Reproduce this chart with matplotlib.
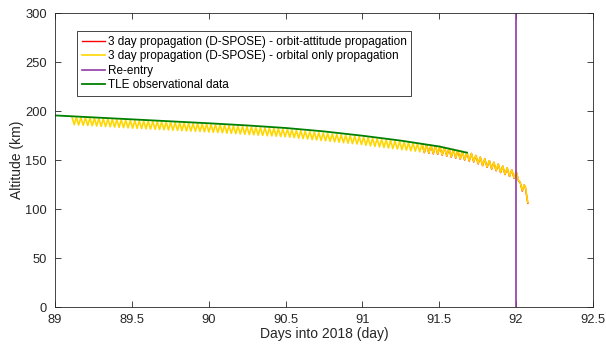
import matplotlib
matplotlib.use("Agg")
import matplotlib.pyplot as plt
from matplotlib.ticker import FuncFormatter

plt.rcParams['font.family'] = ['Liberation Sans', 'DejaVu Sans']

# TLE observational data
tle_t = [89.0, 89.25, 89.5, 89.75, 90.0, 90.25, 90.5, 90.75, 91.0, 91.25, 91.5, 91.68]
tle_alt = [195.5, 193.5, 191.5, 189.5, 187.5, 185.3, 182.7, 179.2, 174.8, 169.8, 163.8, 157.5]

# orbital only propagation: peaks / troughs
peak_t = [89.110, 89.139, 89.168, 89.198, 89.227, 89.256, 89.285, 89.314, 89.344, 89.373,
          89.402, 89.431, 89.460, 89.490, 89.519, 89.548, 89.577, 89.606, 89.636, 89.665,
          89.694, 89.723, 89.752, 89.782, 89.811, 89.840, 89.869, 89.898, 89.928, 89.957,
          89.986, 90.015, 90.044, 90.074, 90.103, 90.132, 90.161, 90.190, 90.220, 90.249,
          90.278, 90.307, 90.336, 90.366, 90.395, 90.424, 90.453, 90.482, 90.512, 90.541,
          90.570, 90.599, 90.628, 90.658, 90.687, 90.716, 90.745, 90.774, 90.804, 90.833,
          90.862, 90.891, 90.920, 90.950, 90.979, 91.008, 91.037, 91.066, 91.096, 91.125,
          91.154, 91.183, 91.212, 91.242, 91.271, 91.300, 91.329, 91.358, 91.388, 91.417,
          91.446, 91.475, 91.504, 91.534, 91.563, 91.592, 91.621, 91.650, 91.680, 91.709,
          91.738, 91.767, 91.796, 91.826, 91.855, 91.884, 91.913, 91.942, 91.972, 92.001]
peak_alt = [194.0, 193.7, 193.5, 193.2, 192.9, 192.7, 192.4, 192.1, 191.9, 191.6,
            191.3, 191.1, 190.8, 190.5, 190.3, 190.1, 189.8, 189.6, 189.4, 189.1,
            188.9, 188.7, 188.4, 188.2, 188.0, 187.7, 187.5, 187.3, 187.1, 186.8,
            186.6, 186.3, 186.1, 185.8, 185.5, 185.2, 184.9, 184.6, 184.3, 184.0,
            183.7, 183.4, 183.1, 182.8, 182.6, 182.3, 182.0, 181.7, 181.3, 180.8,
            180.3, 179.9, 179.4, 178.9, 178.5, 178.0, 177.6, 177.1, 176.6, 176.2,
            175.7, 175.2, 174.8, 174.3, 173.8, 173.3, 172.8, 172.2, 171.7, 171.1,
            170.6, 170.0, 169.5, 168.9, 168.4, 167.8, 167.3, 166.7, 166.2, 165.6,
            165.0, 164.5, 163.9, 162.8, 161.8, 160.8, 159.8, 158.8, 157.7, 156.7,
            154.7, 152.9, 151.2, 149.4, 147.7, 145.8, 143.8, 141.9, 139.9, 138.0]
trough_t = [89.125, 89.154, 89.183, 89.213, 89.242, 89.271, 89.300, 89.329, 89.359, 89.388,
            89.417, 89.446, 89.475, 89.505, 89.534, 89.563, 89.592, 89.621, 89.651, 89.680,
            89.709, 89.738, 89.767, 89.797, 89.826, 89.855, 89.884, 89.913, 89.943, 89.972,
            90.001, 90.030, 90.059, 90.089, 90.118, 90.147, 90.176, 90.205, 90.235, 90.264,
            90.293, 90.322, 90.351, 90.381, 90.410, 90.439, 90.468, 90.497, 90.527, 90.556,
            90.585, 90.614, 90.643, 90.673, 90.702, 90.731, 90.760, 90.789, 90.819, 90.848,
            90.877, 90.906, 90.935, 90.965, 90.994, 91.023, 91.052, 91.081, 91.111, 91.140,
            91.169, 91.198, 91.227, 91.257, 91.286, 91.315, 91.344, 91.373, 91.403, 91.432,
            91.461, 91.490, 91.519, 91.549, 91.578, 91.607, 91.636, 91.665, 91.695, 91.724,
            91.753, 91.782, 91.811, 91.841, 91.870, 91.899, 91.928, 91.957, 91.987]
trough_alt = [186.0, 185.7, 185.5, 185.2, 184.9, 184.7, 184.4, 184.1, 183.9, 183.6,
              183.3, 183.1, 182.8, 182.5, 182.3, 182.1, 181.8, 181.6, 181.4, 181.1,
              180.9, 180.7, 180.4, 180.2, 180.0, 179.7, 179.5, 179.3, 179.1, 178.8,
              178.6, 178.3, 178.1, 177.8, 177.5, 177.2, 176.9, 176.6, 176.3, 176.0,
              175.7, 175.4, 175.1, 174.8, 174.6, 174.3, 174.0, 173.7, 173.3, 172.8,
              172.3, 171.9, 171.4, 170.9, 170.5, 170.0, 169.6, 169.1, 168.6, 168.2,
              167.7, 167.2, 166.8, 166.3, 165.8, 165.0, 164.5, 163.9, 163.4, 162.8,
              162.3, 161.7, 161.2, 160.6, 160.1, 159.5, 159.0, 158.4, 157.9, 157.3,
              156.7, 156.2, 155.4, 154.3, 153.3, 152.3, 151.3, 150.3, 149.2, 148.4,
              146.4, 144.6, 142.9, 141.1, 139.4, 137.5, 135.5, 133.6, 131.6]
tail_t = [92.016, 92.026, 92.040, 92.052, 92.060, 92.076]
tail_alt = [129.0, 127.5, 119.0, 124.5, 123.0, 106.5]

# orbit-attitude propagation (only peeks out near the end, under the yellow)
att_t = [91.388, 91.403, 91.417, 91.432, 91.446, 91.461, 91.475, 91.490, 91.504, 91.519,
         91.534, 91.549, 91.563, 91.578, 91.592, 91.607, 91.621, 91.636, 91.650, 91.665,
         91.680, 91.695, 91.709, 91.724, 91.738, 91.753, 91.767, 91.782, 91.796, 91.811,
         91.826, 91.841, 91.855, 91.870, 91.884, 91.899, 91.913, 91.928, 91.942, 91.957,
         91.972, 91.987, 92.001, 92.016, 92.026, 92.040, 92.052, 92.060, 92.076]
att_alt = [166.2, 157.5, 165.6, 156.9, 165.0, 156.3, 164.5, 155.8, 163.9, 155.0,
           162.8, 153.9, 161.8, 152.9, 160.8, 151.9, 159.8, 150.9, 158.8, 149.9,
           157.7, 148.8, 156.7, 148.0, 154.7, 146.0, 152.9, 144.2, 151.2, 142.5,
           149.4, 140.7, 147.7, 139.0, 145.8, 137.1, 143.8, 135.1, 141.9, 133.2,
           139.9, 131.2, 138.0, 128.4, 127.5, 118.3, 124.5, 122.3, 105.8]

reentry_day = 92.0

# zip peaks and troughs into one line
orb_t, orb_alt = [], []
for i in range(len(peak_t)):
    orb_t.append(peak_t[i])
    orb_alt.append(peak_alt[i])
    if i < len(trough_t):
        orb_t.append(trough_t[i])
        orb_alt.append(trough_alt[i])
orb_t += tail_t
orb_alt += tail_alt

fig = plt.figure(figsize=(6.06, 3.45), dpi=100)
ax = fig.add_axes([0.0908, 0.110, 0.8877, 0.8523])

ax.plot(att_t, att_alt, color='#FF0000', lw=1.0,
        label='3 day propagation (D-SPOSE) - orbit-attitude propagation')
ax.plot(orb_t, orb_alt, color='#FFD700', lw=1.2,
        label='3 day propagation (D-SPOSE) - orbital only propagation')
ax.plot([reentry_day, reentry_day], [0, 300], color='#8E3BA6', lw=1.2, label='Re-entry')
ax.plot(tle_t, tle_alt, color='#008000', lw=1.3, label='TLE observational data')

ax.set_xlim(89, 92.5)
ax.set_ylim(0, 300)
ax.set_xticks([89, 89.5, 90, 90.5, 91, 91.5, 92, 92.5])
ax.set_yticks([0, 50, 100, 150, 200, 250, 300])
ax.xaxis.set_major_formatter(FuncFormatter(lambda v, p: '%g' % v))
ax.tick_params(direction='in', top=True, right=True, length=4, width=0.6,
               colors='#262626', labelsize=9.3)
ax.tick_params(axis='x', pad=5)
ax.tick_params(axis='y', pad=6)
for s in ax.spines.values():
    s.set_color('#262626')
    s.set_linewidth(0.6)

ax.set_xlabel('Days into 2018 (day)', fontsize=10, color='#262626', labelpad=1)
ax.set_ylabel('Altitude (km)', fontsize=10, color='#262626', labelpad=0.5)

leg = ax.legend(loc='upper left', bbox_to_anchor=(0.041, 0.939), borderaxespad=0,
                fontsize=8.5, handlelength=2.0, handletextpad=0.2, labelspacing=0.22,
                borderpad=0.4, fancybox=False, framealpha=1)
leg.get_frame().set_edgecolor('#262626')
leg.get_frame().set_linewidth(0.6)

fig.savefig('out.png', dpi=100)
